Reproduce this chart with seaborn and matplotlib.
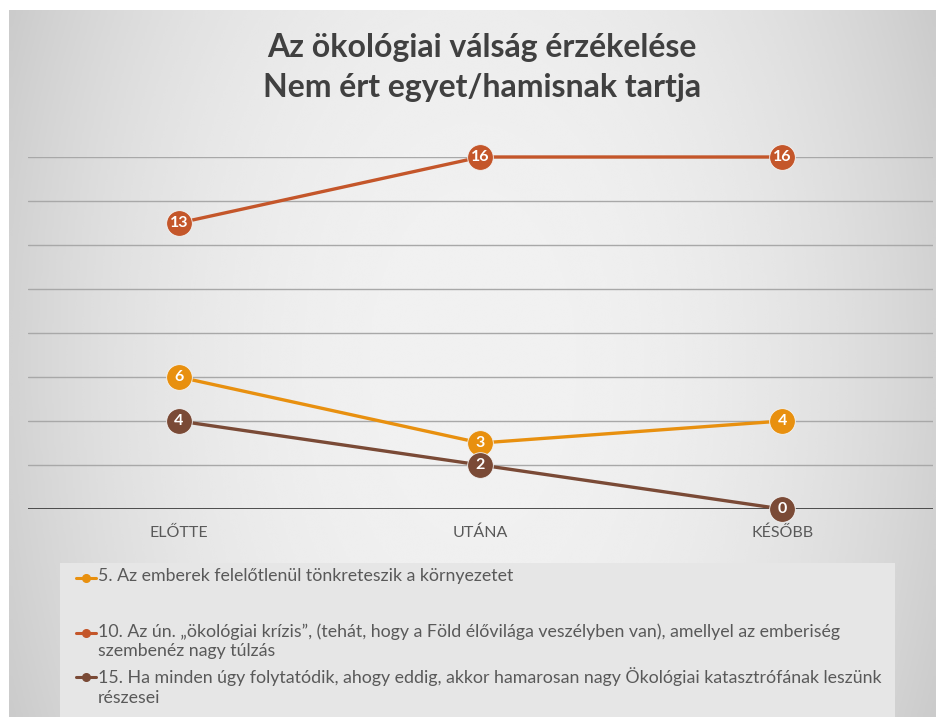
import numpy as np
import pandas as pd
import matplotlib
matplotlib.use("Agg")
import matplotlib.pyplot as plt
import seaborn as sns
from matplotlib.lines import Line2D
from matplotlib.patches import Rectangle

# ---- data ----
categories = ["ELŐTTE", "UTÁNA", "KÉSŐBB"]
series_names = [
    "5. Az emberek felelőtlenül tönkreteszik a környezetet",
    "10. Az ún. „ökológiai krízis”, (tehát, hogy a Föld élővilága veszélyben van), amellyel az emberiség\nszembenéz nagy túlzás",
    "15. Ha minden úgy folytatódik, ahogy eddig, akkor hamarosan nagy Ökológiai katasztrófának leszünk\nrészesei",
]
values_5 = [6, 3, 4]
values_10 = [13, 16, 16]
values_15 = [4, 2, 0]
colors = ["#E8900F", "#C4562A", "#7A4A36"]
title_lines = ["Az ökológiai válság érzékelése", "Nem ért egyet/hamisnak tartja"]

sns.set_theme(style="white")
plt.rcParams["font.family"] = ["Lato", "DejaVu Sans"]

W, H = 937, 717
fig = plt.figure(figsize=(W / 100, H / 100), dpi=100)
fig.patch.set_facecolor("white")

# background gradient (chart area)
bg = fig.add_axes([9 / W, 0, 1 - 9 / W, 1 - 10 / H])
bg.set_axis_off()
yy, xx = np.mgrid[-1:1:300j, -1:1:400j]
r = np.sqrt((xx / 1.0) ** 2 + (yy / 2.2) ** 2)
shade = 0.945 - 0.12 * np.clip(r, 0, 1.2) ** 2.4
bg.imshow(shade, cmap="gray", vmin=0, vmax=1, aspect="auto", extent=[0, 1, 0, 1], interpolation="bicubic")
bg.set_xlim(0, 1); bg.set_ylim(0, 1)

# legend box
fig.patches.append(Rectangle((60 / W, 0), (895 - 60) / W, (717 - 563) / H,
                             transform=fig.transFigure, facecolor="#e6e6e6", edgecolor="none", zorder=0.5))

# main axes
ax = fig.add_axes([28 / W, (H - 509) / H, (933 - 28) / W, (509 - 157) / H])
ax.set_facecolor("none")

rows = []
for name, vals in zip(series_names, [values_5, values_10, values_15]):
    for c, v in zip(categories, vals):
        rows.append({"Időpont": c, "Érték": v, "Állítás": name})
df = pd.DataFrame(rows)

sns.lineplot(data=df, x="Időpont", y="Érték", hue="Állítás", palette=colors,
             marker="o", markersize=18.5, linewidth=2.4, markeredgecolor="#f4f4f4",
             markeredgewidth=0.6, ax=ax, legend=False, sort=False, zorder=3)
for ln in ax.lines:
    ln.set_clip_on(False)

for name, vals, col in zip(series_names, [values_5, values_10, values_15], colors):
    for i, v in enumerate(vals):
        ax.text(i, v, str(v), ha="center", va="center", color="white",
                fontsize=11.5, fontweight="bold", zorder=5, clip_on=False)

ax.set_xlim(-0.5, 2.5)
ax.set_ylim(0, 16)
ax.set_yticks(range(0, 17, 2))
ax.set_yticklabels([])
ax.tick_params(axis="y", length=0)
for yv in range(2, 17, 2):
    ax.axhline(yv, color="#a8a8a8", linewidth=1.0, zorder=1)
ax.axhline(0, color="#404040", linewidth=1.3, zorder=1)
for s in ax.spines.values():
    s.set_visible(False)
ax.set_xlabel(""); ax.set_ylabel("")
ax.set_xticks(range(len(categories)))
ax.set_xticklabels(categories, color="#595959", fontsize=11.5)
ax.tick_params(axis="x", length=0, pad=12)
ax.grid(False)

# title
fig.text(482 / W, 1 - 48 / H, title_lines[0], ha="center", va="center",
         fontsize=23, fontweight="bold", color="#404040")
fig.text(482 / W, 1 - 88 / H, title_lines[1], ha="center", va="center",
         fontsize=23, fontweight="bold", color="#404040")

# legend (manual, aligned to first text line)
leg_y = [578, 633, 677]
for name, col, y in zip(series_names, colors, leg_y):
    fy = 1 - y / H
    fig.add_artist(Line2D([76 / W, 96 / W], [fy, fy], color=col, linewidth=2.2,
                          transform=fig.transFigure))
    fig.add_artist(Line2D([86 / W], [fy], color=col, marker="o", markersize=5.5,
                          linestyle="none", transform=fig.transFigure))
    fig.text(98 / W, fy + 9.5 / H, name, ha="left", va="top", fontsize=12.8, color="#595959",
             linespacing=1.25, transform=fig.transFigure)

fig.savefig("out.png", dpi=100)
